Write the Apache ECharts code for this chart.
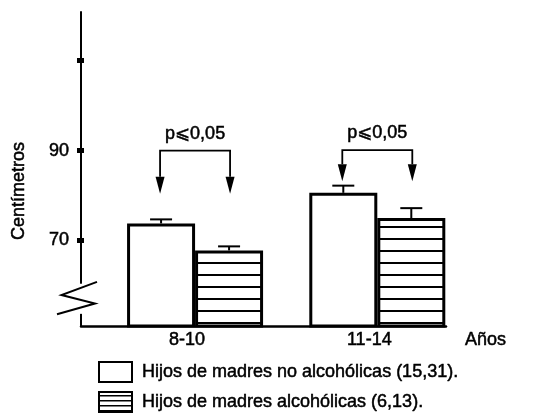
<!DOCTYPE html>
<html><head><meta charset="utf-8">
<script src="https://cdn.jsdelivr.net/npm/echarts@6/dist/echarts.min.js"></script>
<style>html,body{margin:0;padding:0;background:#fff}#c{width:538px;height:413px}</style>
</head><body><div id="c"></div>
<script>
const categories = ['8-10', '11-14'];
const seriesNames = ['Hijos de madres no alcohólicas (15,31).', 'Hijos de madres alcohólicas (6,13).'];
const noAlcMean = [73.8, 80.6];
const noAlcErrTop = [74.7, 82.2];
const alcMean = [67.8, 75.0];
const alcErrTop = [68.7, 77.2];
const yTicks = [70, 90, 110];
const yTickLabels = [70, 90];
const pLabels = ['p⩽0,05', 'p⩽0,05'];
const bracketLevel = [90.0, 90.1];
const arrowTip = [80.4, 83.2];
const yMin = 51.0, yMax = 120.8;
const xMin = 0.374, xMax = 2.377;
const xName = 'Años', yName = 'Centímetros';
const breakGap = [60.4, 53.7];
const zigzag = [[16, 60.8], [-19.5, 57.9], [14, 56.0], [-24, 53.6]];

const FONT = '"Liberation Sans", Arial, "DejaVu Sans", sans-serif';
const FS = 18;
const TB = { textBorderColor: '#000', textBorderWidth: 0.5 };
const BW = 68;

function hatch(h, lineY, lw) {
  const c = document.createElement('canvas');
  c.width = 8; c.height = h;
  const g = c.getContext('2d');
  g.fillStyle = '#fff'; g.fillRect(0, 0, 8, h);
  g.fillStyle = '#000'; g.fillRect(0, lineY, 8, lw);
  return c;
}
const barHatch = hatch(12, 10, 2);
const legendHatch = hatch(5, 3, 1.5);

function errRender(offset) {
  return function (params, api) {
    const x = api.value(0);
    const b = api.coord([x, api.value(1)]);
    const t = api.coord([x, api.value(2)]);
    const cx = b[0] + offset;
    return { type: 'group', children: [
      { type: 'line', shape: { x1: cx, y1: b[1], x2: cx, y2: t[1] }, style: { stroke: '#000', lineWidth: 2 } },
      { type: 'line', shape: { x1: cx - 11, y1: t[1], x2: cx + 11, y2: t[1] }, style: { stroke: '#000', lineWidth: 2 } }
    ] };
  };
}

function bracketRender(params, api) {
  const x = api.value(0);
  const c = api.coord([x, api.value(1)]);
  const tip = api.coord([x, api.value(2)]);
  const xl = c[0] - 35, xr = c[0] + 35, yl = c[1], yt = tip[1];
  const ah = 17, aw = 4.5;
  return { type: 'group', children: [
    { type: 'polyline', shape: { points: [[xl, yt - ah], [xl, yl], [xr, yl], [xr, yt - ah]] }, style: { stroke: '#000', lineWidth: 1.8, fill: null } },
    { type: 'polygon', shape: { points: [[xl - aw, yt - ah], [xl + aw, yt - ah], [xl, yt]] }, style: { fill: '#000' } },
    { type: 'polygon', shape: { points: [[xr - aw, yt - ah], [xr + aw, yt - ah], [xr, yt]] }, style: { fill: '#000' } },
    { type: 'text', x: c[0], y: yl - 17, style: { text: pLabels[params.dataIndex], font: FS + 'px ' + FONT, fill: '#000', align: 'center', verticalAlign: 'middle', stroke: '#000', lineWidth: 0.5 } }
  ] };
}

const legendBase = {
  orient: 'vertical', left: 98, padding: 0,
  itemWidth: 33, itemHeight: 20,
  textStyle: Object.assign({ color: '#000', fontSize: FS, fontFamily: FONT, padding: [0, 0, 0, 5] }, TB),
  selectedMode: false
};

const chart = echarts.init(document.getElementById('c'), null, { renderer: 'canvas' });
const option = {
  animation: false,
  backgroundColor: '#fff',
  grid: { left: 81, right: 92, top: 12, bottom: 87 },
  xAxis: {
    type: 'value', min: xMin, max: xMax,
    axisLine: { show: true, lineStyle: { color: '#000', width: 2.5 } },
    axisTick: { show: false },
    splitLine: { show: false },
    axisLabel: Object.assign({
      customValues: [1, 2],
      formatter: v => categories[Math.round(v) - 1],
      color: '#000', fontSize: FS, fontFamily: FONT, margin: 5, padding: [0, 16, 0, 0]
    }, TB),
    name: xName, nameLocation: 'end', nameGap: 19,
    nameTextStyle: Object.assign({ color: '#000', fontSize: FS, fontFamily: FONT, align: 'left', verticalAlign: 'top', padding: [5, 0, 0, 0] }, TB)
  },
  yAxis: [{
    type: 'value', min: yMin, max: yMax, position: 'left',
    axisLine: { show: true, lineStyle: { color: '#000', width: 2 } },
    axisTick: { show: true, customValues: yTicks, length: 4, lineStyle: { color: '#000', width: 5 } },
    axisLabel: Object.assign({ customValues: yTickLabels, color: '#000', fontSize: FS, fontFamily: FONT, margin: 12 }, TB),
    splitLine: { show: false }
  }, {
    type: 'value', min: yMin, max: yMax, position: 'left', offset: 0,
    axisLine: { show: false },
    axisTick: { show: true, inside: true, customValues: yTicks, length: 3, lineStyle: { color: '#000', width: 5 } },
    axisLabel: { show: false },
    splitLine: { show: false }
  }],
  legend: [
    Object.assign({}, legendBase, { top: 361, data: [{ name: seriesNames[0], icon: 'rect' }] }),
    Object.assign({}, legendBase, { top: 391, data: [{ name: seriesNames[1], icon: 'rect', itemStyle: { color: { image: legendHatch, repeat: 'repeat' } } }] })
  ],
  series: [
    { type: 'bar', name: seriesNames[0], data: noAlcMean.map((v, i) => [i + 1, v]), barWidth: BW, barGap: '0%',
      itemStyle: { color: '#fff', borderColor: '#000', borderWidth: 3 } },
    { type: 'bar', name: seriesNames[1], data: alcMean.map((v, i) => [i + 1, v]), barWidth: BW, barGap: '0%',
      itemStyle: { color: { image: barHatch, repeat: 'repeat' }, borderColor: '#000', borderWidth: 3 } },
    { type: 'custom', name: 'err1', renderItem: errRender(-BW / 2), data: noAlcMean.map((v, i) => [i + 1, v, noAlcErrTop[i]]), z: 5 },
    { type: 'custom', name: 'err2', renderItem: errRender(BW / 2), data: alcMean.map((v, i) => [i + 1, v, alcErrTop[i]]), z: 5 },
    { type: 'custom', name: 'brackets', renderItem: bracketRender, data: categories.map((c, i) => [i + 1, bracketLevel[i], arrowTip[i]]), z: 5 }
  ]
};
chart.setOption(option);

const ax = chart.convertToPixel({ xAxisIndex: 0 }, xMin);
const py = v => chart.convertToPixel({ yAxisIndex: 0 }, v);
chart.setOption({
  graphic: [
    { type: 'rect', shape: { x: ax - 4, y: py(breakGap[0]), width: 8, height: py(breakGap[1]) - py(breakGap[0]) }, style: { fill: '#fff' }, z: 100 },
    { type: 'polyline', shape: { points: zigzag.map(p => [ax + p[0], py(p[1])]) }, style: { stroke: '#000', lineWidth: 2, fill: null }, z: 101 },
    { type: 'text', x: 19, y: 191, rotation: Math.PI / 2, style: { text: yName, font: FS + 'px ' + FONT, fill: '#000', align: 'center', verticalAlign: 'middle', stroke: '#000', lineWidth: 0.5 }, z: 101 }
  ]
});
</script>
</body></html>
